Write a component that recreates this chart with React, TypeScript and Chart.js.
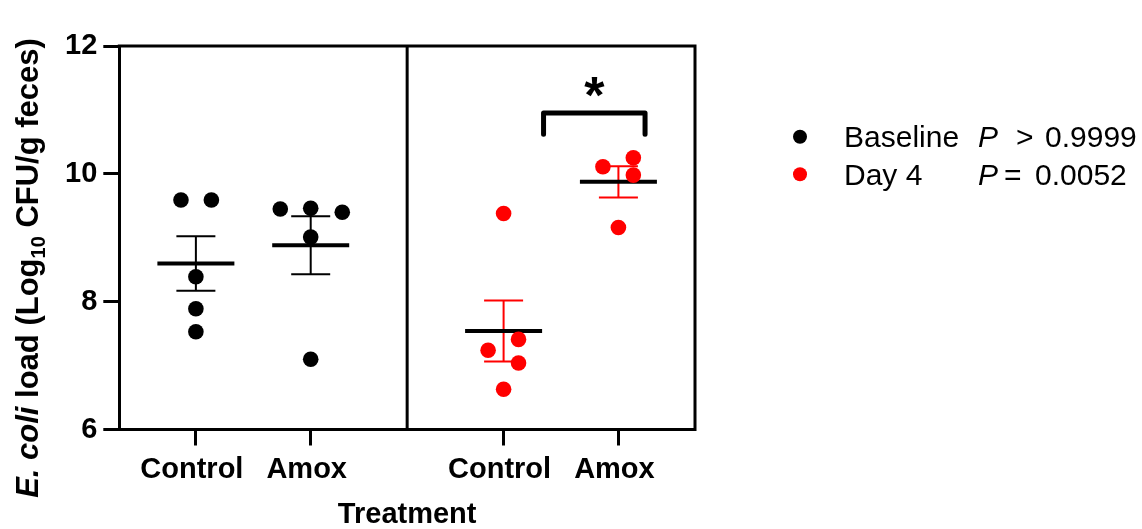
import React, { useEffect, useRef } from 'react';
import { Chart, registerables } from 'chart.js';

Chart.register(...registerables);

// ---------- data ----------
const groupLabels = ['Control', 'Amox', 'Control', 'Amox'];
const groupPositions = [1, 2, 3.68, 4.68];
const dividerPosition = 2.84;
const xMin = 0.333;
const xMax = 5.347;
const yTicks = [6, 8, 10, 12];
const xTitle = 'Treatment';

const baselineControl = [9.59, 9.59, 8.39, 7.89, 7.53];
const baselineControlJitter = [-0.13, 0.135, 0, 0, 0];
const baselineAmox = [9.45, 9.46, 9.4, 9.01, 7.1];
const baselineAmoxJitter = [-0.265, 0, 0.275, 0, 0];
const day4Control = [9.38, 7.24, 7.41, 7.04, 6.63];
const day4ControlJitter = [0, -0.135, 0.13, 0.13, 0];
const day4Amox = [10.11, 10.25, 9.98, 9.16];
const day4AmoxJitter = [-0.135, 0.13, 0.13, 0];

const seriesNames = ['Baseline', 'Day 4'];
const pComparators = ['>', '='];
const pNumbers = ['0.9999', '0.0052'];
const bracketX = [4.028, 4.912];
const bracketY = [10.95, 10.62];
const bracketLabel = '*';

// ---------- styles ----------
const FONT = '"Liberation Sans", Arial, sans-serif';
const BLACK = '#000000';
const RED = '#ff0000';
const seriesColors = [BLACK, RED];

const groups = [
  { values: baselineControl, jitter: baselineControlJitter, pos: groupPositions[0], color: BLACK },
  { values: baselineAmox, jitter: baselineAmoxJitter, pos: groupPositions[1], color: BLACK },
  { values: day4Control, jitter: day4ControlJitter, pos: groupPositions[2], color: RED },
  { values: day4Amox, jitter: day4AmoxJitter, pos: groupPositions[3], color: RED },
];

const mean = (a: number[]) => a.reduce((s, v) => s + v, 0) / a.length;
const sem = (a: number[]) => {
  const m = mean(a);
  const sd = Math.sqrt(a.reduce((s, v) => s + (v - m) * (v - m), 0) / (a.length - 1));
  return sd / Math.sqrt(a.length);
};

const customPlugin = {
  id: 'customDraw',
  beforeDatasetsDraw(chart: any) {
    const { ctx, scales } = chart;
    const x = scales.x;
    const y = scales.y;
    ctx.save();
    groups.forEach((g) => {
      const m = mean(g.values);
      const s = sem(g.values);
      const px = x.getPixelForValue(g.pos);
      const yTop = y.getPixelForValue(m + s);
      const yBot = y.getPixelForValue(m - s);
      ctx.strokeStyle = g.color;
      ctx.lineWidth = 2;
      ctx.lineCap = 'butt';
      ctx.beginPath();
      ctx.moveTo(px, yTop);
      ctx.lineTo(px, yBot);
      ctx.moveTo(px - 19.5, yTop);
      ctx.lineTo(px + 19.5, yTop);
      ctx.moveTo(px - 19.5, yBot);
      ctx.lineTo(px + 19.5, yBot);
      ctx.stroke();
      const ym = y.getPixelForValue(m);
      ctx.strokeStyle = BLACK;
      ctx.lineWidth = 4;
      ctx.beginPath();
      ctx.moveTo(px - 38.5, ym);
      ctx.lineTo(px + 38.5, ym);
      ctx.stroke();
    });
    ctx.restore();
  },
  afterDraw(chart: any) {
    const { ctx, chartArea, scales } = chart;
    const x = scales.x;
    const y = scales.y;
    ctx.save();
    // frame: top, right, divider
    ctx.strokeStyle = BLACK;
    ctx.lineWidth = 3;
    ctx.lineCap = 'square';
    ctx.beginPath();
    ctx.moveTo(chartArea.left, chartArea.top);
    ctx.lineTo(chartArea.right, chartArea.top);
    ctx.lineTo(chartArea.right, chartArea.bottom);
    const dx = x.getPixelForValue(dividerPosition);
    ctx.moveTo(dx, chartArea.top);
    ctx.lineTo(dx, chartArea.bottom);
    ctx.stroke();

    // significance bracket
    const bx1 = x.getPixelForValue(bracketX[0]);
    const bx2 = x.getPixelForValue(bracketX[1]);
    const by = y.getPixelForValue(bracketY[0]);
    const byl = y.getPixelForValue(bracketY[1]);
    ctx.lineWidth = 5;
    ctx.lineCap = 'round';
    ctx.lineJoin = 'round';
    ctx.beginPath();
    ctx.moveTo(bx1, byl);
    ctx.lineTo(bx1, by);
    ctx.lineTo(bx2, by);
    ctx.lineTo(bx2, byl);
    ctx.stroke();
    ctx.fillStyle = BLACK;
    ctx.font = `bold 52px ${FONT}`;
    ctx.textAlign = 'center';
    ctx.textBaseline = 'alphabetic';
    ctx.fillText(bracketLabel, (bx1 + bx2) / 2, by);

    // y-axis title with italic and subscript parts
    const parts = [
      { text: 'E. coli', font: `italic bold 31px ${FONT}`, dy: 0 },
      { text: ' load (Log', font: `bold 31px ${FONT}`, dy: 0 },
      { text: '10', font: `bold 20px ${FONT}`, dy: 7 },
      { text: ' CFU/g feces)', font: `bold 31px ${FONT}`, dy: 0 },
    ];
    ctx.save();
    ctx.translate(38, 268);
    ctx.rotate(-Math.PI / 2);
    ctx.textAlign = 'left';
    ctx.textBaseline = 'alphabetic';
    let total = 0;
    parts.forEach((p) => {
      ctx.font = p.font;
      total += ctx.measureText(p.text).width;
    });
    let cx = -total / 2;
    parts.forEach((p) => {
      ctx.font = p.font;
      ctx.fillText(p.text, cx, p.dy);
      cx += ctx.measureText(p.text).width;
    });
    ctx.restore();

    // legend
    const rowY = [136.7, 174.3];
    const compXs = [1016, 1004];
    const numXs = [1045, 1035];
    seriesNames.forEach((name, i) => {
      const cy = rowY[i];
      ctx.fillStyle = seriesColors[i];
      ctx.beginPath();
      ctx.arc(800, cy, 7, 0, Math.PI * 2);
      ctx.fill();
      ctx.fillStyle = BLACK;
      ctx.textAlign = 'left';
      ctx.textBaseline = 'alphabetic';
      ctx.font = `30px ${FONT}`;
      ctx.fillText(name, 844, cy + 10.5);
      ctx.font = `italic 30px ${FONT}`;
      ctx.fillText('P', 978, cy + 10.5);
      ctx.font = `30px ${FONT}`;
      ctx.fillText(pComparators[i], compXs[i], cy + 10.5);
      ctx.fillText(pNumbers[i], numXs[i], cy + 10.5);
    });
    ctx.restore();
  },
};

export default function App() {
  const canvasRef = useRef<HTMLCanvasElement | null>(null);

  useEffect(() => {
    document.body.style.margin = '0';
    const canvas = canvasRef.current;
    if (!canvas) return;
    Chart.defaults.font.family = FONT;
    const chart = new Chart(canvas, {
      type: 'scatter',
      data: {
        datasets: groups.map((g, gi) => ({
          label: `group${gi}`,
          data: g.values.map((v, i) => ({ x: g.pos + g.jitter[i], y: v })),
          backgroundColor: g.color,
          borderColor: g.color,
          pointRadius: 7.8,
          pointBorderWidth: 0,
          pointHoverRadius: 7.8,
        })),
      },
      options: {
        animation: false,
        responsive: false,
        devicePixelRatio: 1,
        layout: { padding: { left: 0, top: 46, right: 447, bottom: 0 } },
        plugins: {
          legend: { display: false },
          tooltip: { enabled: false },
          title: { display: false },
        },
        scales: {
          x: {
            type: 'linear',
            min: xMin,
            max: xMax,
            afterBuildTicks: (axis: any) => {
              axis.ticks = groupPositions.map((v) => ({ value: v }));
            },
            afterFit: (axis: any) => {
              axis.height = 99.5;
            },
            ticks: {
              autoSkip: false,
              maxRotation: 0,
              color: BLACK,
              padding: 7,
              labelOffset: -4,
              font: { size: 29, weight: 'bold', family: FONT },
              callback: (value: any) => {
                const i = groupPositions.indexOf(Number(value));
                return i >= 0 ? groupLabels[i] : '';
              },
            },
            grid: {
              display: true,
              drawOnChartArea: false,
              drawTicks: true,
              tickLength: 16,
              tickWidth: 3,
              tickColor: BLACK,
            },
            border: { display: true, width: 3, color: BLACK },
            title: {
              display: true,
              text: xTitle,
              color: BLACK,
              font: { size: 29, weight: 'bold', family: FONT },
              padding: { top: 0, bottom: -3 },
            },
          },
          y: {
            type: 'linear',
            min: 6,
            max: 12,
            afterBuildTicks: (axis: any) => {
              axis.ticks = yTicks.map((v) => ({ value: v }));
            },
            afterFit: (axis: any) => {
              axis.width = 119.3;
            },
            ticks: {
              color: BLACK,
              padding: 6,
              font: { size: 29, weight: 'bold', family: FONT },
            },
            grid: {
              display: true,
              drawOnChartArea: false,
              drawTicks: true,
              tickLength: 16,
              tickWidth: 3,
              tickColor: BLACK,
            },
            border: { display: true, width: 3, color: BLACK },
          },
        },
      } as any,
      plugins: [customPlugin],
    });
    return () => chart.destroy();
  }, []);

  return (
    <div style={{ width: 1142, height: 529, background: '#fff' }}>
      <canvas ref={canvasRef} width={1142} height={529} style={{ display: 'block' }} />
    </div>
  );
}
